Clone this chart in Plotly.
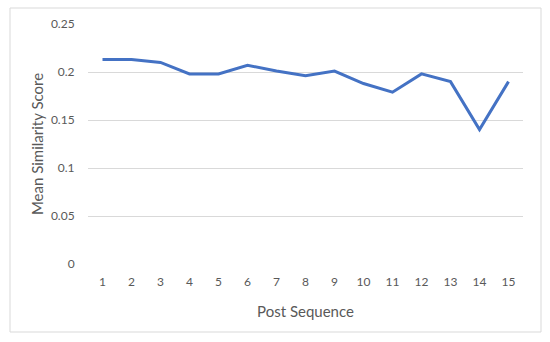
import plotly.graph_objects as go

post_sequence = list(range(1, 16))
mean_similarity = [0.213, 0.213, 0.210, 0.198, 0.198, 0.207, 0.201, 0.196, 0.201,
                   0.188, 0.179, 0.198, 0.190, 0.140, 0.190]
y_ticks = [0, 0.05, 0.1, 0.15, 0.2, 0.25]
y_tick_labels = ["0", "0.05", "0.1", "0.15", "0.2", "0.25"]

FONT = "Lato"
GRAY = "#595959"

fig = go.Figure()
fig.add_trace(go.Scatter(
    x=post_sequence, y=mean_similarity, mode="lines",
    line=dict(color="#4472C4", width=3), showlegend=False,
))

ml, mr, mt, mb = 88, 27, 24, 78
pw, ph = 550 - ml - mr, 342 - mt - mb

fig.update_layout(
    width=550, height=342,
    margin=dict(l=ml, r=mr, t=mt, b=mb),
    paper_bgcolor="white", plot_bgcolor="white",
    font=dict(family=FONT, color=GRAY, size=12),
    xaxis=dict(
        range=[0.5, 15.5], tickmode="array", tickvals=post_sequence,
        ticktext=[str(v) for v in post_sequence],
        showgrid=False, showline=False, zeroline=False, automargin=False,
        ticks="outside", ticklen=7, tickcolor="rgba(0,0,0,0)",
        tickfont=dict(size=12, color=GRAY),
        title=dict(text="Post Sequence", font=dict(size=15, color=GRAY), standoff=18),
    ),
    yaxis=dict(
        range=[0, 0.25], tickmode="array", tickvals=y_ticks, ticktext=y_tick_labels,
        showgrid=True, gridcolor="#d9d9d9", gridwidth=1,
        showline=False, zeroline=False, automargin=False,
        ticks="outside", ticklen=10, tickcolor="rgba(0,0,0,0)",
        tickfont=dict(size=12, color=GRAY),
        title=dict(text="Mean Similarity Score", font=dict(size=15, color=GRAY), standoff=3),
    ),
    shapes=[dict(
        type="rect", xref="paper", yref="paper",
        x0=(10 - ml) / pw, x1=(541 - ml) / pw,
        y0=(264 - 332) / ph, y1=(264 - 8) / ph,
        line=dict(color="#d9d9d9", width=1), fillcolor="rgba(0,0,0,0)", layer="below",
    )],
)

fig.write_html("out.html", config={"displayModeBar": False},
               post_script="document.body.style.margin='0';")
